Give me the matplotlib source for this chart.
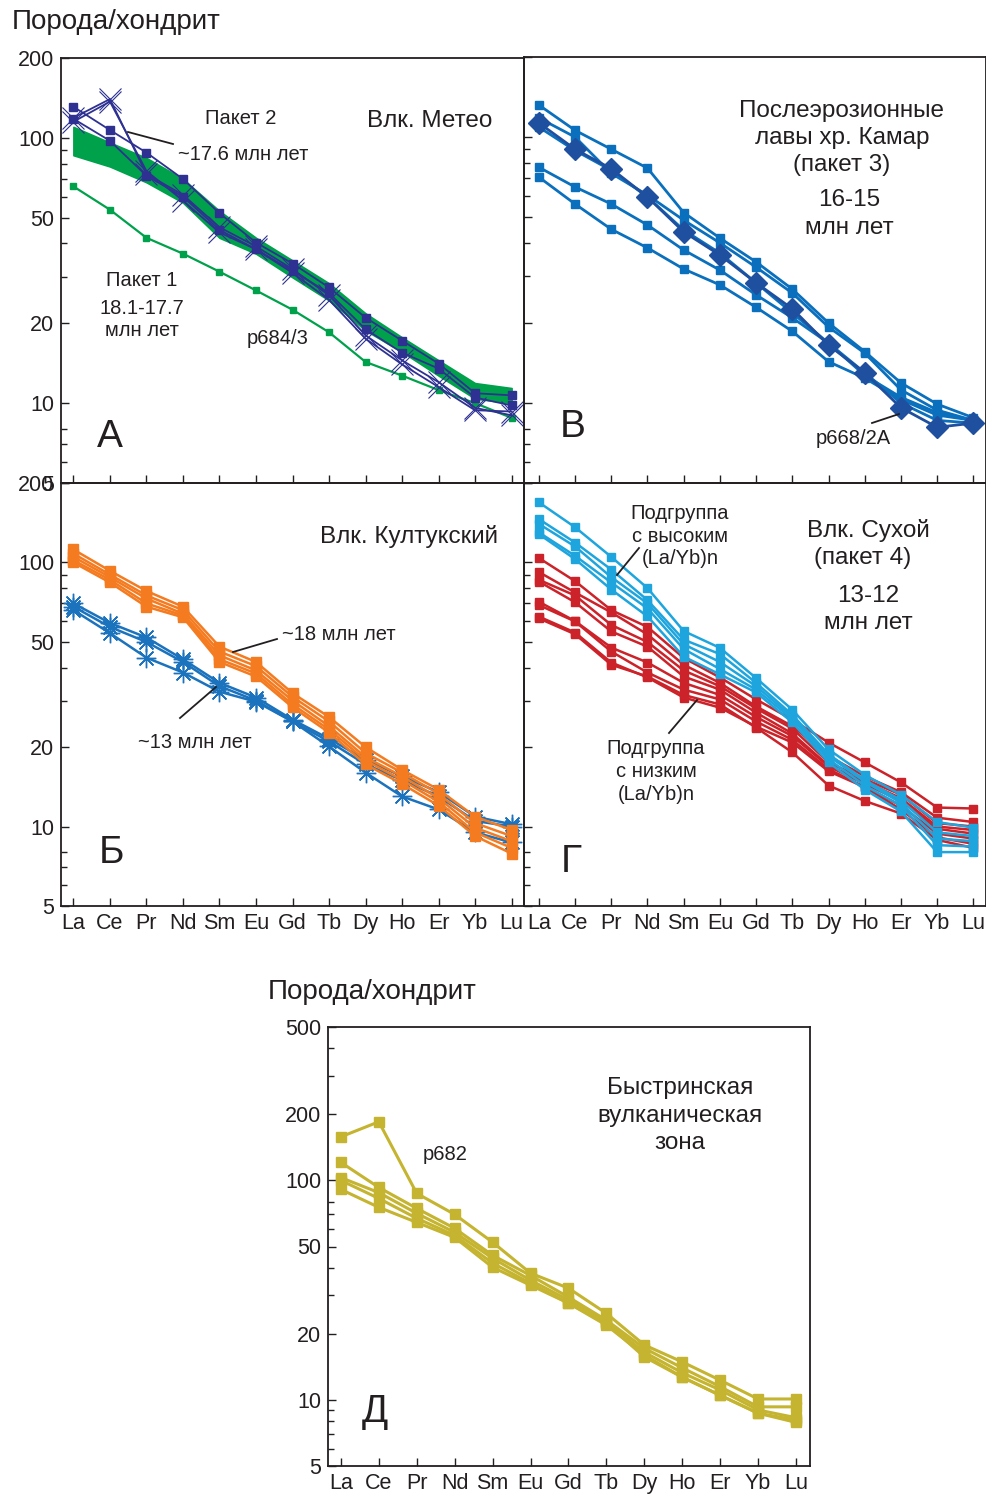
import numpy as np
import matplotlib
matplotlib.use("Agg")
import matplotlib.pyplot as plt
from matplotlib.ticker import FixedLocator, FixedFormatter, NullFormatter
from matplotlib.lines import Line2D

plt.rcParams['font.family'] = ['Liberation Sans', 'DejaVu Sans']

W, H = 987, 1496
INK = '#231f20'

ree = ['La', 'Ce', 'Pr', 'Nd', 'Sm', 'Eu', 'Gd', 'Tb', 'Dy', 'Ho', 'Er', 'Yb', 'Lu']

# --- А: Влк. Метео ---
meteo_band_hi = [110, 96, 84, 70, 53, 42, 34.5, 28.3, 21.8, 17.7, 14.5, 11.9, 11.4]
meteo_band_lo = [86, 78, 68, 57, 42, 36.6, 29.8, 24.4, 18.8, 15.6, 12.7, 10.4, 10.0]
meteo_p684 = [65.6, 53.6, 42, 36.6, 31.3, 26.6, 22.5, 18.5, 14.3, 12.7, 11.2, 10.0, 8.8]
meteo_sq = [
    [131, 107, 88, 70, 52, 40.3, 33.6, 27.3, 21, 17.2, 14.1, 10.9, 10.7],
    [118, 97.5, 72, 60, 45, 38, 31.5, 26, 19, 15.5, 13.5, 10.5, 9.8],
]
meteo_x = [
    [119, 140, 73, 61, 46, 39, 32, 25.5, 18, 14.5, 12, 9.6, 9.0],
    [115, 137, 75, 58, 44, 38, 31, 24.5, 17.5, 14, 11.5, 9.4, 9.3],
]

# --- В: Камар ---
kamar_sq = [
    [132, 106, 90, 76.4, 52, 41.7, 33.9, 26.8, 20, 15.6, 11.9, 9.9, 8.8],
    [118, 100, 73, 60.5, 48.7, 40, 32.4, 25.9, 19.3, 15.4, 11.2, 9.4, 8.6],
    [109, 89, 75, 59.5, 44.7, 36.6, 28.3, 21.8, 16.8, 13, 10, 8.6, 8.4],
    [77, 64.9, 56, 46.7, 37.6, 31.6, 25.5, 20.9, 16.8, 12.7, 10.5, 9.2, 8.6],
    [70.7, 56, 45, 38.3, 31.9, 27.8, 22.9, 18.6, 14.3, 12.4, 10.3, 9.0, 8.6],
]
kamar_p668 = [113, 90, 76, 59.5, 44, 36, 28.3, 22.6, 16.5, 13, 9.6, 8.1, 8.4]

# --- Б: Култукский ---
kultuk_18 = [
    [112, 93, 78, 68, 48, 42, 32, 26, 20, 16.4, 13.8, 10.9, 9.7],
    [108, 90, 75, 66, 46, 40.5, 31, 25, 19, 16, 13.3, 10.3, 9.2],
    [105, 88, 73, 64, 44.5, 39, 30, 24, 18.3, 15.5, 12.8, 9.9, 8.8],
    [102, 86, 70, 63, 43, 38, 29, 23.3, 17.8, 15, 12.4, 9.5, 8.3],
    [100, 84, 68, 62, 42, 37, 28.3, 22.7, 17.2, 14.5, 12, 9.2, 7.9],
]
kultuk_13 = [
    [70, 59, 52, 43, 35, 30.8, 25.4, 21.5, 17.9, 15.5, 13.5, 10.9, 10.2],
    [68, 57, 50, 42, 34, 30, 25, 21, 17.2, 15, 13, 10.5, 10.0],
    [66, 54, 43.6, 38.3, 32.4, 29.7, 25, 20.1, 16, 13, 11.6, 9.5, 8.7],
]

# --- Г: Сухой ---
suhoi_high = [
    [169, 136, 105, 80, 55, 47.5, 36.5, 27.7, 19.6, 15.7, 13.2, 10.4, 9.9],
    [146, 119, 94, 72, 51, 45, 35, 26.5, 18.8, 15, 12.6, 9.5, 9.2],
    [140, 115, 88, 70, 49, 42, 34, 26, 18.5, 14.8, 12.3, 9.0, 8.8],
    [130, 106, 84, 67, 47, 39.5, 33, 25.5, 18, 14.3, 12, 8.5, 8.4],
    [128, 103, 79, 62.5, 44, 37.7, 32.2, 24.8, 17.5, 13.8, 11.4, 8.0, 8.0],
]
suhoi_low = [
    [104, 85, 66, 57, 43.5, 36.7, 30.3, 25.4, 20.8, 17.5, 14.7, 11.8, 11.7],
    [92, 77, 64.7, 53.4, 41, 35, 28.5, 24, 18.5, 15.5, 13.5, 10.8, 10.4],
    [86, 75, 58, 50, 39, 34, 28, 23.5, 17.5, 15.1, 13.2, 10.3, 10.0],
    [84.7, 70.7, 54.8, 48, 37, 33, 27, 22.5, 17, 14.8, 12.8, 10, 9.7],
    [71, 60, 47.6, 41.8, 35, 31.5, 26, 22, 16.9, 14.5, 12.5, 9.8, 9.4],
    [69, 59.8, 46, 38.3, 33, 30.3, 25, 21.3, 16.5, 14.1, 12, 9.4, 9.0],
    [62.4, 54.3, 41.8, 36.7, 30.8, 28.2, 23.9, 20.8, 16.2, 14.1, 11.6, 9.1, 8.6],
    [61.4, 53.5, 41, 37, 31.5, 29, 23.7, 19.1, 14.3, 12.5, 11.2, 8.9, 8.3],
]

# --- Д: Быстринская зона ---
bystr = [
    [158, 185, 87.3, 70, 52.3, 37.8, 32.3, 24.8, 17.8, 14.9, 12.3, 10.1, 10.1],
    [120.8, 92.9, 74.6, 60.5, 45.6, 36.9, 29.4, 23.1, 17.2, 14, 11.5, 9.3, 9.3],
    [103, 88, 70.8, 58, 44.2, 35.1, 28.5, 22.6, 16.5, 13.3, 11.1, 9.0, 8.3],
    [100, 82.8, 67.2, 56.2, 42, 34, 27.6, 21.9, 16, 12.7, 10.5, 8.7, 7.9],
    [91, 75.4, 64.4, 55, 40.2, 33.3, 27.6, 22.4, 15.7, 12.7, 10.5, 8.7, 8.1],
]

x = np.arange(len(ree))


def px_axes(fig, left, top, right, bottom):
    return fig.add_axes([left / W, 1 - bottom / H, (right - left) / W, (bottom - top) / H])


def setup(ax, xlim, ymax, majors, minors, labels):
    ax.set_yscale('log')
    ax.set_ylim(5, ymax)
    ax.set_xlim(*xlim)
    ax.set_xticks(x)
    ax.set_xticklabels(ree if labels else [])
    ax.yaxis.set_major_locator(FixedLocator(majors))
    ax.yaxis.set_major_formatter(FixedFormatter([str(m) for m in majors]))
    ax.yaxis.set_minor_locator(FixedLocator(minors))
    ax.yaxis.set_minor_formatter(NullFormatter())
    ax.tick_params(axis='both', which='both', direction='in', colors=INK, width=1.0)
    ax.tick_params(axis='y', which='major', length=6, labelsize=15.5, pad=5)
    ax.tick_params(axis='x', which='major', length=6, labelsize=15.5, pad=5)
    ax.tick_params(axis='y', which='minor', length=4)
    ax.tick_params(axis='x', which='minor', bottom=False, top=False)
    for s in ax.spines.values():
        s.set_color(INK)
        s.set_linewidth(1.3)
    ax.patch.set_alpha(0)


def ftext(fig, px, py, s, size=14.5, ha='center'):
    fig.text(px / W, 1 - py / H, s, fontsize=size, ha=ha, va='center', color=INK)


def fline(fig, x0, y0, x1, y1):
    fig.add_artist(Line2D([x0 / W, x1 / W], [1 - y0 / H, 1 - y1 / H], color=INK, lw=1.3))


fig = plt.figure(figsize=(W / 100, H / 100), dpi=100)

maj = [5, 10, 20, 50, 100, 200]
mino = [6, 7, 8, 30, 40, 60, 70, 80, 90]

# А
axA = px_axes(fig, 61, 58, 524, 483)
setup(axA, (-0.34, 12.34), 200, maj, mino, False)
axA.plot(x, meteo_p684, '-s', color='#00a14b', lw=1.6, ms=4.5, zorder=2)
axA.fill_between(x, meteo_band_lo, meteo_band_hi, color='#00a14b', lw=1.2, zorder=3)
for v in meteo_sq:
    axA.plot(x, v, '-s', color='#2e3192', lw=1.3, ms=6, zorder=4)
for v in meteo_x:
    axA.plot(x, v, '-x', color='#2e3192', lw=1.3, ms=16, mew=0.8, zorder=4)

# В
axB = px_axes(fig, 524, 57, 986, 483)
setup(axB, (-0.41, 12.35), 200, maj, mino, False)
axB.set_yticklabels([])
for v in kamar_sq:
    axB.plot(x, v, '-s', color='#0a70bd', lw=2.0, ms=5.5, zorder=3)
axB.plot(x, kamar_p668, '-D', color='#1f4f9f', lw=2.0, ms=11, zorder=4)

# Б
axC = px_axes(fig, 61, 483, 524, 906)
setup(axC, (-0.34, 12.34), 200, maj, mino, True)
for v in kultuk_13:
    axC.plot(x, v, '-', color='#1b72bd', lw=1.8, marker=(8, 2, 0), ms=14, mew=1.0, zorder=3)
for v in kultuk_18:
    axC.plot(x, v, '-s', color='#f47b20', lw=1.8, ms=7.5, zorder=4)

# Г
axD = px_axes(fig, 524, 483, 986, 906)
setup(axD, (-0.41, 12.35), 200, maj, mino, True)
axD.set_yticklabels([])
for v in suhoi_low:
    axD.plot(x, v, '-s', color='#cc2229', lw=1.8, ms=6, zorder=3)
for v in suhoi_high:
    axD.plot(x, v, '-s', color='#1ea5de', lw=1.8, ms=6, zorder=4)

# Д
axE = px_axes(fig, 328, 1027, 810, 1466)
setup(axE, (-0.34, 12.37), 500, [5, 10, 20, 50, 100, 200, 500],
      [6, 7, 8, 9, 30, 40, 60, 70, 80, 300, 400], True)
for v in bystr:
    axE.plot(x, v, '-s', color='#c5b430', lw=2.2, ms=6.5, zorder=3)

# texts
ftext(fig, 12, 22, 'Порода/хондрит', 20, ha='left')
ftext(fig, 268, 992, 'Порода/хондрит', 20, ha='left')

ftext(fig, 241, 118, 'Пакет 2')
ftext(fig, 430, 121, 'Влк. Метео', 17.5)
ftext(fig, 178, 155, '~17.6 млн лет', ha='left')
fline(fig, 128, 132, 173, 144)
ftext(fig, 142, 280, 'Пакет 1')
ftext(fig, 142, 308, '18.1-17.7')
ftext(fig, 142, 331, 'млн лет')
ftext(fig, 278, 339, 'p684/3')
ftext(fig, 110, 437, 'А', 28)

ftext(fig, 842, 111, 'Послеэрозионные', 17.5)
ftext(fig, 842, 138, 'лавы хр. Камар', 17.5)
ftext(fig, 842, 165, '(пакет 3)', 17.5)
ftext(fig, 849, 200, '16-15', 17.5)
ftext(fig, 849, 228, 'млн лет', 17.5)
ftext(fig, 853, 438, 'p668/2A')
fline(fig, 872, 423, 899, 414)
ftext(fig, 573, 427, 'В', 28)

ftext(fig, 409, 536, 'Влк. Култукский', 17.5)
ftext(fig, 282, 634, '~18 млн лет', ha='left')
fline(fig, 233, 652, 277, 639)
ftext(fig, 195, 743, '~13 млн лет')
fline(fig, 180, 718, 216, 687)
ftext(fig, 112, 853, 'Б', 28)

ftext(fig, 680, 514, 'Подгруппа')
ftext(fig, 680, 537, 'с высоким')
ftext(fig, 680, 559, '(La/Yb)n')
fline(fig, 617, 575, 639, 548)
ftext(fig, 868, 530, 'Влк. Сухой', 17.5)
ftext(fig, 863, 558, '(пакет 4)', 17.5)
ftext(fig, 868, 596, '13-12', 17.5)
ftext(fig, 868, 623, 'млн лет', 17.5)
ftext(fig, 656, 749, 'Подгруппа')
ftext(fig, 656, 772, 'с низким')
ftext(fig, 656, 795, '(La/Yb)n')
fline(fig, 669, 733, 697, 700)
ftext(fig, 571, 862, 'Г', 28)

ftext(fig, 680, 1088, 'Быстринская', 17.5)
ftext(fig, 680, 1116, 'вулканическая', 17.5)
ftext(fig, 680, 1143, 'зона', 17.5)
ftext(fig, 445, 1155, 'p682')
ftext(fig, 375, 1412, 'Д', 28)

fig.savefig('out.png', dpi=100)
